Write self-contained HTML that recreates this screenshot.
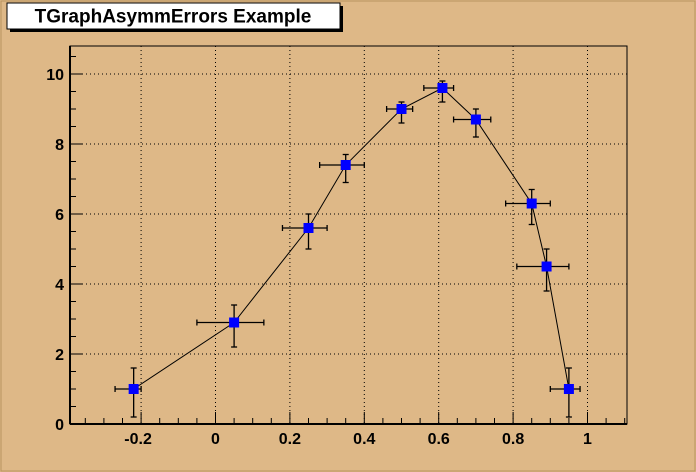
<!DOCTYPE html>
<html><head><meta charset="utf-8"><style>
body{margin:0;background:#deb887;}
svg{display:block;font-family:"Liberation Sans",sans-serif;}
</style></head><body>
<svg width="696" height="472">
<rect x="0" y="0" width="696" height="472" fill="#deb887"/>
<rect x="1" y="1" width="694" height="470" fill="none" stroke="#b8935f"/>
<g id="grid"></g>
<g id="axes"></g>
<g id="series"></g>
<rect x="10" y="6" width="333" height="26" fill="#000"/>
<rect x="7" y="3" width="333" height="26" fill="#fff" stroke="#000" stroke-width="1"/>
<text x="173" y="22.5" text-anchor="middle" font-size="19" font-weight="bold">TGraphAsymmErrors Example</text>
</svg>
<script>
const xVals=[-0.22,0.05,0.25,0.35,0.5,0.61,0.7,0.85,0.89,0.95];
const yVals=[1,2.9,5.6,7.4,9.0,9.6,8.7,6.3,4.5,1];
const exLow=[.05,.1,.07,.07,.04,.05,.06,.07,.08,.05];
const exHigh=[.02,.08,.05,.05,.03,.03,.04,.05,.06,.03];
const eyLow=[.8,.7,.6,.5,.4,.4,.5,.6,.7,.8];
const eyHigh=[.6,.5,.4,.3,.2,.2,.3,.4,.5,.6];
const xTicks=[-0.2,0,0.2,0.4,0.6,0.8,1];
const xTickLabels=["-0.2","0","0.2","0.4","0.6","0.8","1"];
const yTicks=[0,2,4,6,8,10];
const yTickLabels=["0","2","4","6","8","10"];

const L=70,R=627,T=46,B=424;
const X0=215.5,XS=372,Y0=424,YS=35;
const sx=v=>X0+v*XS, sy=v=>Y0-v*YS;
const NS="http://www.w3.org/2000/svg";
function mk(parent,tag,attrs){const e=document.createElementNS(NS,tag);for(const k in attrs)e.setAttribute(k,attrs[k]);document.getElementById(parent).appendChild(e);return e;}

xTicks.forEach(v=>{const e=mk('grid','line',{x1:sx(v),x2:sx(v),y1:T,y2:B,stroke:'#000','stroke-dasharray':'1,3'});

});
yTicks.forEach(v=>{const e=mk('grid','line',{x1:L,x2:R,y1:sy(v),y2:sy(v),stroke:'#000','stroke-dasharray':'1,3'});

});

const fr=mk('axes','rect',{x:L,y:T,width:R-L,height:B-T,fill:'none',stroke:'#000','stroke-width':1});


const xa=mk('axes','line',{x1:L,x2:R,y1:B,y2:B,stroke:'#000','stroke-width':2});


const ya=mk('axes','line',{x1:L,x2:L,y1:T,y2:B,stroke:'#000','stroke-width':2});



for(let i=-8;i<=22;i++){const v=i*0.05;const px=sx(v);if(px<L||px>R)continue;
 const major=Math.abs(v*5-Math.round(v*5))<1e-6;
 const e=mk('axes','line',{x1:px,x2:px,y1:B,y2:B-(major?12:6),stroke:'#000'});
 
 }
xTicks.forEach((v,i)=>{const t=mk('axes','text',{x:sx(v)-(xTickLabels[i][0]=='-'?3:0),y:444,'text-anchor':'middle','font-size':16,'font-weight':'bold'});t.textContent=xTickLabels[i];
 
 });
for(let i=0;i<=21;i++){const v=i*0.5;const py=sy(v);if(py<T)continue;
 const major=i%4==0;
 const e=mk('axes','line',{x1:L,x2:L+(major?12:6),y1:py,y2:py,stroke:'#000'});
 
 }
yTicks.forEach((v,i)=>{const t=mk('axes','text',{x:64,y:sy(v)+6,'text-anchor':'end','font-size':16,'font-weight':'bold'});t.textContent=yTickLabels[i];
 
 });

const pl=mk('series','polyline',{points:xVals.map((x,i)=>sx(x)+','+sy(yVals[i])).join(' '),fill:'none',stroke:'#000','stroke-width':1});


xVals.forEach((x,i)=>{const cx=sx(x),cy=sy(yVals[i]);
 const g=mk('series','g',{stroke:'#000','stroke-width':1.3});
 
 
 const xl=sx(x-exLow[i]),xh=sx(x+exHigh[i]),yl=sy(yVals[i]-eyLow[i]),yh=sy(yVals[i]+eyHigh[i]);
 const segs=[[xl,cy,xh,cy],[cx,yl,cx,yh],[xl,cy-3,xl,cy+3],[xh,cy-3,xh,cy+3],[cx-3,yl,cx+3,yl],[cx-3,yh,cx+3,yh]];
 segs.forEach(s=>{const l=document.createElementNS(NS,'line');l.setAttribute('x1',s[0]);l.setAttribute('y1',s[1]);l.setAttribute('x2',s[2]);l.setAttribute('y2',s[3]);g.appendChild(l);});
 const m=mk('series','rect',{x:cx-5,y:cy-5,width:10,height:10,fill:'#0000ff'});
 
 
});
</script>
</body></html>
